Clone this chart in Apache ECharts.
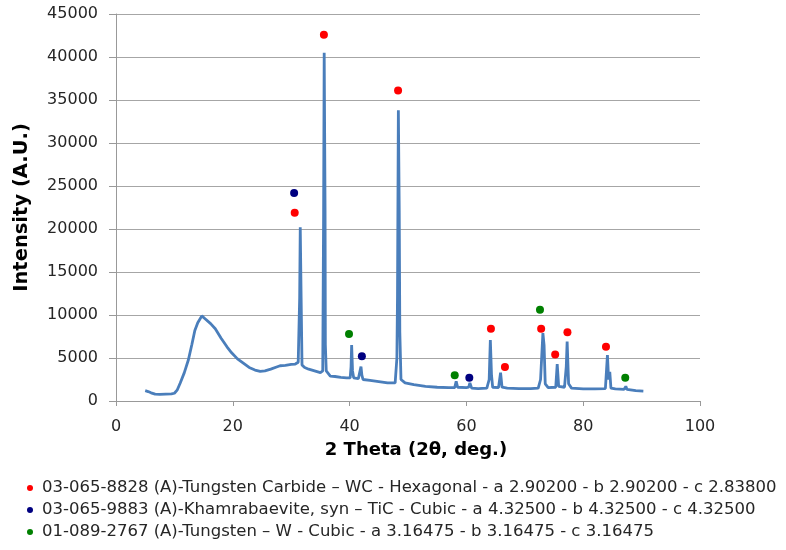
<!DOCTYPE html>
<html>
<head>
<meta charset="utf-8">
<script src="https://cdn.jsdelivr.net/npm/echarts@6/dist/echarts.min.js"></script>
<style>
  html, body { margin: 0; padding: 0; background: #fff; }
  #xrd { width: 786px; height: 550px; }
</style>
</head>
<body>
<div id="xrd"></div>
<script>
// XRD pattern (2 theta, intensity)
var twoTheta = [5.0, 5.5, 6.0, 6.7, 7.5, 8.5, 9.5, 10.0, 10.5, 11.0, 11.7, 12.4, 13.0, 13.5, 14.0, 14.7, 15.2, 15.5, 16.2, 17.0,
  18.0, 19.0, 19.8, 20.8, 21.8, 22.8, 23.8, 24.7, 25.5, 26.5, 27.5, 28.1, 29.0, 30.0, 30.7, 31.2, 31.45, 31.55, 31.7, 31.85,
  32.3, 33.0, 34.0, 35.0, 35.4, 35.55, 35.65, 35.8, 35.85, 36.0, 36.7, 37.5, 38.5, 39.5, 40.1, 40.25, 40.35, 40.5, 40.7, 41.5,
  41.8, 41.95, 42.1, 42.3, 43.5, 45.0, 46.5, 47.8, 48.1, 48.2, 48.35, 48.5, 48.6, 48.8, 49.5, 51.0, 53.0, 55.0, 57.0, 58.0,
  58.25, 58.5, 60.0, 60.4, 60.6, 60.9, 62.0, 63.5, 63.9, 64.1, 64.3, 64.5, 65.5, 65.85, 66.1, 67.0, 69.0, 71.0, 72.3, 72.7,
  73.1, 73.3, 73.5, 74.0, 75.3, 75.55, 75.8, 76.8, 77.1, 77.25, 77.5, 78.0, 80.0, 82.0, 83.8, 84.15, 84.35, 84.55, 84.75, 85.5,
  87.0, 87.3, 87.5, 89.0, 90.3];
var intensity = [1200, 1100, 950, 800, 780, 800, 820, 900, 1300, 2100, 3300, 4800, 6600, 8200, 9100, 9900, 9600, 9400, 9000, 8400,
  7300, 6300, 5600, 4900, 4400, 3900, 3600, 3450, 3500, 3700, 3950, 4100, 4150, 4250, 4300, 4500, 12000, 20200, 12000, 4200,
  3900, 3700, 3500, 3300, 3500, 22000, 40500, 22000, 6500, 3500, 2900, 2850, 2750, 2700, 2700, 4000, 6500, 3500, 2700, 2600,
  2700, 4000, 3000, 2500, 2400, 2250, 2100, 2100, 5000, 12000, 33800, 22000, 8000, 2500, 2100, 1900, 1700, 1600, 1550, 1550,
  2300, 1600, 1550, 1600, 2100, 1500, 1450, 1500, 2500, 7100, 3000, 1600, 1550, 3300, 1600, 1500, 1450, 1450, 1500, 2500,
  7900, 6500, 2000, 1550, 1600, 4300, 1700, 1600, 4000, 6900, 2000, 1500, 1400, 1400, 1450, 5350, 2500, 3400, 1500, 1400,
  1350, 1700, 1350, 1200, 1150];

// phase markers
var wcLabel = '03-065-8828 (A)-Tungsten Carbide \u2013 WC - Hexagonal - a 2.90200 - b 2.90200 - c 2.83800';
var wcX = [30.6, 35.6, 48.3, 64.2, 66.6, 72.8, 75.2, 77.3, 83.9];
var wcY = [21900, 42600, 36100, 8400, 3950, 8400, 5400, 8000, 6300];

var ticLabel = '03-065-9883 (A)-Khamrabaevite, syn \u2013 TiC - Cubic - a 4.32500 - b 4.32500 - c 4.32500';
var ticX = [30.5, 42.1, 60.5];
var ticY = [24200, 5200, 2700];

var wLabel = '01-089-2767 (A)-Tungsten \u2013 W - Cubic - a 3.16475 - b 3.16475 - c 3.16475';
var wX = [39.9, 58.0, 72.6, 87.2];
var wY = [7800, 3000, 10600, 2700];

function pairs(xs, ys) {
  return xs.map(function (x, i) { return [x, ys[i]]; });
}

var fontName = 'DejaVu Sans';

var chart = echarts.init(document.getElementById('xrd'));

var option = {
  animation: false,
  backgroundColor: '#fff',
  textStyle: { fontFamily: fontName },
  grid: { left: 116, right: 86, top: 14, bottom: 149 },
  legend: {
    data: [wcLabel, ticLabel, wLabel],
    orient: 'vertical',
    left: 27,
    top: 479,
    width: 760,
    height: 70,
    padding: 0,
    itemWidth: 6,
    itemHeight: 6,
    itemGap: 4,
    icon: 'circle',
    textStyle: { fontFamily: fontName, fontSize: 16.5, color: '#262626', lineHeight: 18, padding: [0, 0, 0, 4] }
  },
  xAxis: {
    type: 'value',
    min: 0,
    max: 100,
    interval: 20,
    name: '2 Theta (2\u03b8, deg.)',
    nameLocation: 'middle',
    nameGap: 40,
    nameTextStyle: { fontFamily: fontName, fontSize: 18, fontWeight: 'bold', color: '#000', padding: [0, 0, 0, 16] },
    axisLine: { lineStyle: { color: '#999', width: 1 } },
    axisTick: { show: true, length: 5, lineStyle: { color: '#999' } },
    axisLabel: { fontSize: 16, color: '#262626', margin: 18 },
    splitLine: { show: false }
  },
  yAxis: {
    type: 'value',
    min: 0,
    max: 45000,
    interval: 5000,
    name: 'Intensity (A.U.)',
    nameLocation: 'middle',
    nameGap: 84,
    nameTextStyle: { fontFamily: fontName, fontSize: 19.5, fontWeight: 'bold', color: '#000' },
    axisLine: { show: true, lineStyle: { color: '#999', width: 1 } },
    axisTick: { show: true, length: 7, lineStyle: { color: '#999' } },
    axisLabel: {
      fontSize: 16,
      color: '#262626',
      margin: 18,
      formatter: function (v) { return String(v); }
    },
    splitLine: { lineStyle: { color: '#a6a6a6', width: 1 } }
  },
  series: [
    {
      name: 'pattern',
      type: 'line',
      data: pairs(twoTheta, intensity),
      showSymbol: false,
      lineStyle: { color: '#4A7EBB', width: 2.8 },
      itemStyle: { color: '#4A7EBB' },
      z: 2
    },
    {
      name: wcLabel,
      type: 'scatter',
      data: pairs(wcX, wcY),
      symbolSize: 8,
      itemStyle: { color: '#ff0000', opacity: 1 },
      z: 3
    },
    {
      name: ticLabel,
      type: 'scatter',
      data: pairs(ticX, ticY),
      symbolSize: 8,
      itemStyle: { color: '#000080', opacity: 1 },
      z: 3
    },
    {
      name: wLabel,
      type: 'scatter',
      data: pairs(wX, wY),
      symbolSize: 8,
      itemStyle: { color: '#008000', opacity: 1 },
      z: 3
    }
  ]
};

chart.setOption(option);

window.addEventListener('resize', function () {
  chart.resize();
});
</script>
</body>
</html>
